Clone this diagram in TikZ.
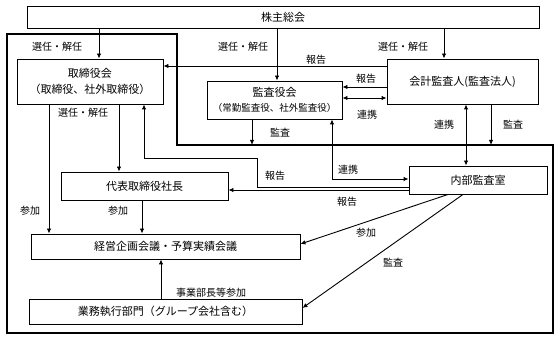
\documentclass[tikz,border=0pt]{standalone}
\usepackage{fontspec}
\setmainfont{Noto Sans CJK JP}
\usetikzlibrary{arrows.meta}
\begin{document}
\begin{tikzpicture}[x=1pt,y=-1pt,
  box/.style={draw,line width=0.9pt,inner sep=0pt,align=center,font=\fontsize{11}{16}\selectfont},
  lbl/.style={inner sep=0pt,font=\fontsize{10}{12}\selectfont},
  con/.style={line width=0.9pt},
  arr/.style={con,-{Latex[length=5pt,width=4.5pt]}},
  darr/.style={con,{Latex[length=5pt,width=4.5pt]}-{Latex[length=5pt,width=4.5pt]}},
  frameline/.style={line width=1.1pt}]
\useasboundingbox (0,0) rectangle (560,339);
% outer frame
\draw[frameline] (7,34) -- (177,34) -- (177,145) -- (553,145) -- (553,333) -- (7,333) -- cycle;
\coordinate (fr) at (553,145);
% boxes
\node[box,minimum width=512pt,minimum height=22pt] (kabu) at (283,17) {株主総会};
\node[box,minimum width=146pt,minimum height=45pt] (tori) at (90,81.5) {取締役会\\（取締役、社外取締役）};
\node[box,minimum width=135pt,minimum height=38pt] (kansa) at (274.5,100) {監査役会\\[-1pt]{\fontsize{9.5}{12}\selectfont（常勤監査役、社外監査役）}};
\node[box,minimum width=151pt,minimum height=45pt] (kaikei) at (462.5,81.5) {会計監査人(監査法人)};
\node[box,minimum width=167pt,minimum height=28pt] (daihyo) at (144.5,186) {代表取締役社長};
\node[box,minimum width=138pt,minimum height=28pt] (naibu) at (478,180) {内部監査室};
\node[box,minimum width=269pt,minimum height=25pt] (keiei) at (165.5,246.5) {経営企画会議・予算実績会議};
\node[box,minimum width=273pt,minimum height=25pt] (gyomu) at (165.5,311.5) {業務執行部門（グループ会社含む）};
% connectors
\draw[arr] (99,0 |- kabu.south) -- (99,0 |- tori.north);
\draw[arr] (277,0 |- kabu.south) -- (277,0 |- kansa.north);
\draw[arr] (444,0 |- kabu.south) -- (444,0 |- kaikei.north);
\draw[arr] (kaikei.west |- 0,66) -- (tori.east |- 0,66);
\draw[arr] (kaikei.west |- 0,87) -- (kansa.east |- 0,87);
\draw[darr] (kansa.east |- 0,98) -- (kaikei.west |- 0,98);
\draw[darr] (466,0 |- kaikei.south) -- (466,0 |- naibu.north);
\draw[arr] (491,0 |- kaikei.south) -- (491,0 |- fr);
\draw[arr] (252,0 |- kansa.south) -- (252,0 |- fr);
\draw[arr] (49,0 |- tori.south) -- (49,0 |- keiei.north);
\draw[arr] (119,0 |- tori.south) -- (119,0 |- daihyo.north);
\draw[arr] (142,0 |- daihyo.south) -- (142,0 |- keiei.north);
\draw[arr] (161,0 |- gyomu.north) -- (161,0 |- keiei.south);
\draw[arr] (naibu.west |- 0,187) -- (257,187) -- (257,158) -- (144,158) -- (144,0 |- tori.south);
\draw[arr] (naibu.west |- 0,190) -- (daihyo.east |- 0,190);
\draw[darr] (332,0 |- kansa.south) -- (332,179) -- (naibu.west |- 0,179);
\draw[arr] (448,0 |- naibu.south) -- (keiei.east |- 0,244);
\draw[arr] (463,0 |- naibu.south) -- (gyomu.east |- 0,308);
% labels
\node[lbl] (l1) at (57,47) {選任・解任};
\node[lbl] (l2) at (243,47) {選任・解任};
\node[lbl] (l3) at (403,47) {選任・解任};
\node[lbl] (l4) at (83,113) {選任・解任};
\node[lbl] (l5) at (316,60) {報告};
\node[lbl] (l6) at (366,79) {報告};
\node[lbl] (l7) at (275,176) {報告};
\node[lbl] (l8) at (347,202) {報告};
\node[lbl] (l9) at (367,115) {連携};
\node[lbl] (l10) at (444,125) {連携};
\node[lbl] (l11) at (348,170) {連携};
\node[lbl] (l12) at (513,125) {監査};
\node[lbl] (l13) at (280,133) {監査};
\node[lbl] (l14) at (393,263) {監査};
\node[lbl] (l15) at (30,211) {参加};
\node[lbl] (l16) at (118,211) {参加};
\node[lbl] (l17) at (366,233) {参加};
\node[lbl] (l18) at (211,293) {事業部長等参加};
\end{tikzpicture}
\end{document}
